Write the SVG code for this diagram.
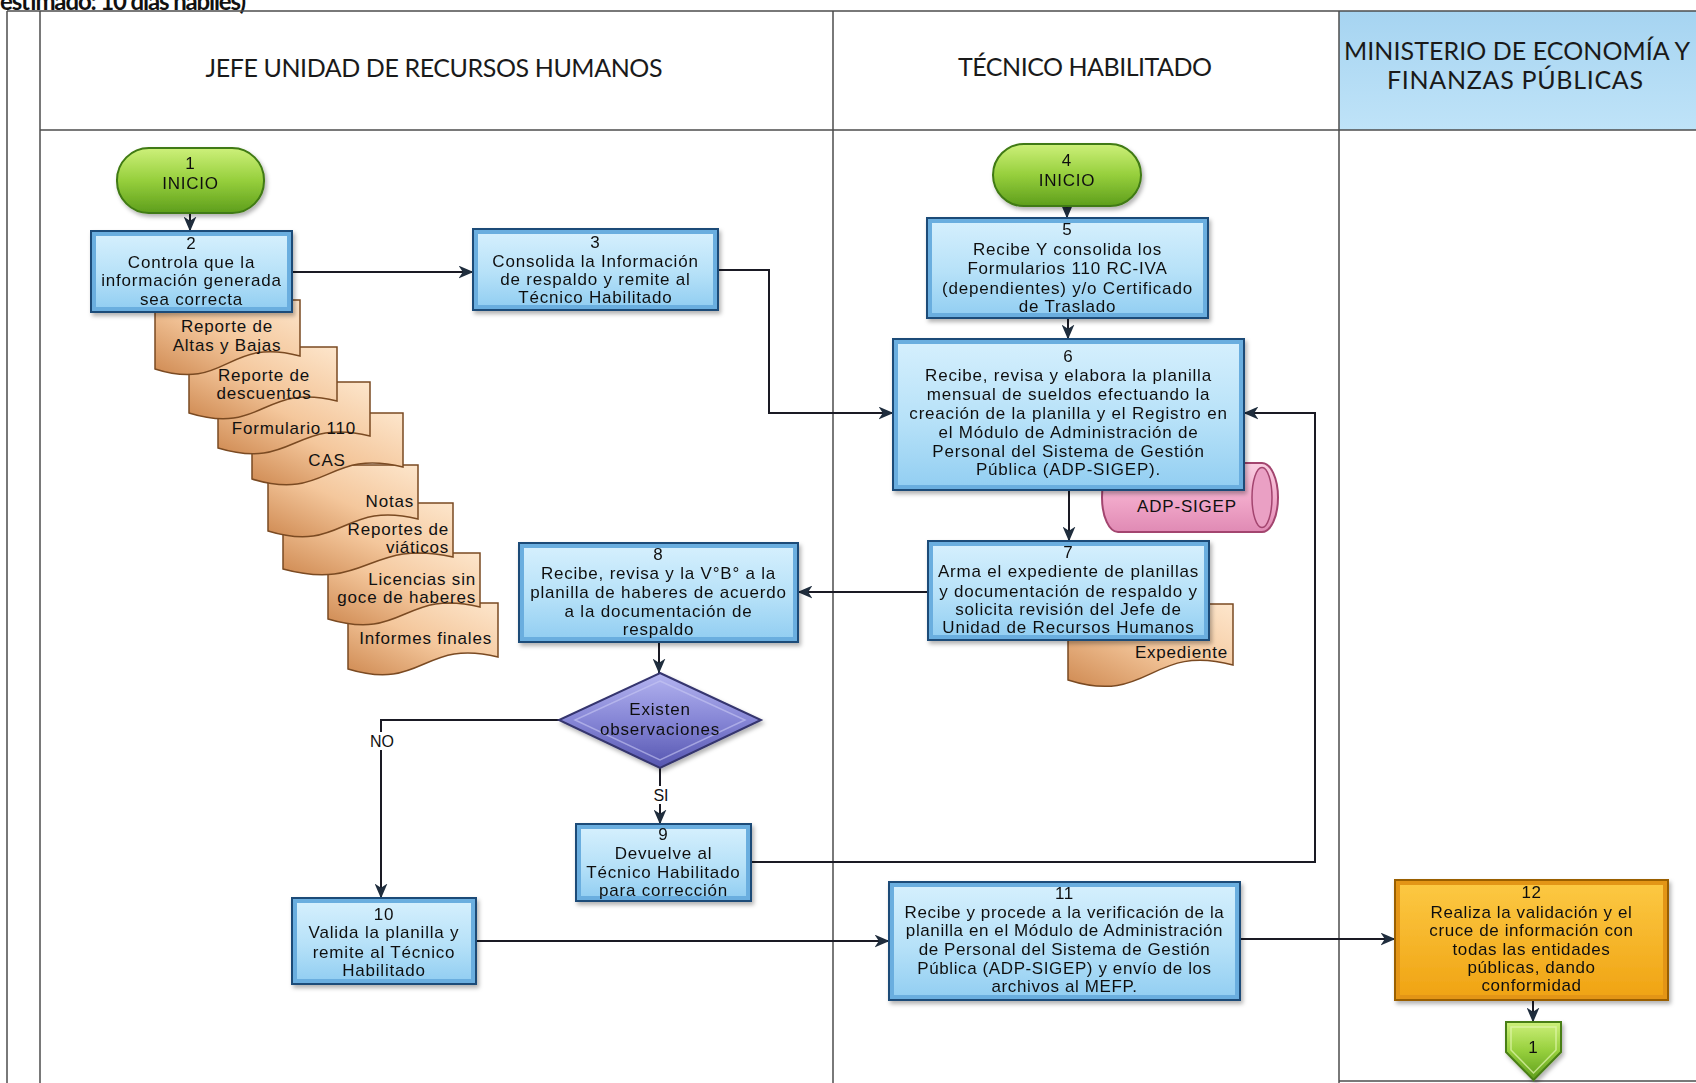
<svg xmlns="http://www.w3.org/2000/svg" width="1696" height="1083" viewBox="0 0 1696 1083">
<defs>
  <linearGradient id="gBlue" x1="0" y1="0" x2="0" y2="1">
    <stop offset="0" stop-color="#d4effd"/>
    <stop offset="0.55" stop-color="#b6e1f8"/>
    <stop offset="1" stop-color="#94cff2"/>
  </linearGradient>
  <linearGradient id="gGreen" x1="0" y1="0" x2="0" y2="1">
    <stop offset="0" stop-color="#cdf07a"/>
    <stop offset="0.5" stop-color="#96cf3c"/>
    <stop offset="1" stop-color="#5e9e1c"/>
  </linearGradient>
  <linearGradient id="gOrange" x1="0" y1="0" x2="0" y2="1">
    <stop offset="0" stop-color="#fcc842"/>
    <stop offset="1" stop-color="#f0a414"/>
  </linearGradient>
  <linearGradient id="gDiamond" x1="0" y1="0" x2="0" y2="1">
    <stop offset="0" stop-color="#b4b4f0"/>
    <stop offset="0.5" stop-color="#8686d6"/>
    <stop offset="1" stop-color="#5656b0"/>
  </linearGradient>
  <linearGradient id="gDoc" x1="1" y1="0" x2="0" y2="1">
    <stop offset="0" stop-color="#fde6cc"/>
    <stop offset="0.5" stop-color="#f4c79c"/>
    <stop offset="1" stop-color="#cf8a52"/>
  </linearGradient>
  <linearGradient id="gPink" x1="0" y1="0" x2="0" y2="1">
    <stop offset="0" stop-color="#f9cfe2"/>
    <stop offset="0.5" stop-color="#f2aacb"/>
    <stop offset="1" stop-color="#e08ab4"/>
  </linearGradient>
  <linearGradient id="gHead" x1="0" y1="0" x2="0" y2="1">
    <stop offset="0" stop-color="#a6d4f1"/>
    <stop offset="1" stop-color="#bfe3f8"/>
  </linearGradient>
  <marker id="arr" viewBox="0 0 14 12" refX="13.5" refY="6" markerWidth="15" markerHeight="13" markerUnits="userSpaceOnUse" orient="auto">
    <path d="M0,0 L14,6 L0,12 L4,6 z" fill="#1f2d3d"/>
  </marker>
  <filter id="sh" x="-10%" y="-10%" width="130%" height="140%">
    <feDropShadow dx="2" dy="3" stdDeviation="2" flood-color="#000" flood-opacity="0.3"/>
  </filter>
</defs>
<style>
  .lane{stroke:#4d4d4d;stroke-width:1.5;fill:none}
  .hdr{font-family:Lato,"Open Sans",sans-serif;font-size:25px;fill:#1a1a1a;text-anchor:middle}
  .ttl{font-family:Lato,"Open Sans",sans-serif;font-size:24px;font-weight:bold;fill:#111}
  .t{font-family:"Liberation Sans",Arial,sans-serif;font-size:17px;letter-spacing:0.8px;fill:#111;text-anchor:middle}
  .te{font-family:"Liberation Sans",Arial,sans-serif;font-size:17px;letter-spacing:0.8px;fill:#111;text-anchor:end}
  .tn{font-family:"Liberation Sans",Arial,sans-serif;font-size:17px;letter-spacing:0.6px;fill:#111;text-anchor:middle}
  .bx{fill:#6aaedf;stroke:#1f4b78;stroke-width:2}
  .bxi{fill:url(#gBlue)}
  .term{fill:url(#gGreen);stroke:#3f7a12;stroke-width:2}
  .doc{fill:url(#gDoc);stroke:#7a4a22;stroke-width:1.5}
  .wire{fill:none;stroke:#1a1a24;stroke-width:2}
  .lbl{font-family:"Liberation Sans",Arial,sans-serif;font-size:16px;fill:#111;text-anchor:middle}
</style>

<!-- page title, partly above the sheet edge -->
<text class="ttl" x="0" y="10" textLength="246">estimado: 10 días hábiles)</text>

<!-- swimlane table -->
<g id="lanes">
  <rect x="1339" y="11" width="357" height="119" fill="url(#gHead)"/>
  <path class="lane" d="M7,11 H1696 M40,130 H1696 M7,11 V1083 M40,11 V1083 M833,11 V1083 M1339,11 V1083 M1339,1081 H1696"/>
  <text class="hdr" x="434" y="77" textLength="457">JEFE UNIDAD DE RECURSOS HUMANOS</text>
  <text class="hdr" x="1085" y="76" textLength="254">TÉCNICO HABILITADO</text>
  <text class="hdr" x="1517" y="60" textLength="346">MINISTERIO DE ECONOMÍA Y</text>
  <text class="hdr" x="1515" y="89" textLength="256">FINANZAS PÚBLICAS</text>
</g>

<!-- supporting documents of step 2, lowest one first -->
<g id="docs">
  <g id="d8"><path class="doc" d="M348,603 H498 V657 C423,638 423,692 348,669 Z"/>
    <text class="te" x="492" y="644">Informes finales</text></g>
  <g id="d7"><path class="doc" d="M328,553 H480 V607 C404,588 404,642 328,619 Z"/>
    <text class="te" x="476" y="585">Licencias sin</text><text class="te" x="476" y="603">goce de haberes</text></g>
  <g id="d6"><path class="doc" d="M283,503 H453 V557 C368,538 368,592 283,569 Z"/>
    <text class="te" x="449" y="535">Reportes de</text><text class="te" x="449" y="553">viáticos</text></g>
  <g id="d5"><path class="doc" d="M268,465 H418 V519 C343,500 343,554 268,531 Z"/>
    <text class="te" x="414" y="507">Notas</text></g>
  <g id="d4"><path class="doc" d="M252,413 H403 V467 C327,448 327,502 252,479 Z"/>
    <text class="t" x="327" y="466">CAS</text></g>
  <g id="d3"><path class="doc" d="M218,382 H370 V436 C294,417 294,471 218,448 Z"/>
    <text class="t" x="294" y="434">Formulario 110</text></g>
  <g id="d2"><path class="doc" d="M189,347 H337 V401 C263,382 263,436 189,413 Z"/>
    <text class="t" x="264" y="381">Reporte de</text><text class="t" x="264" y="399">descuentos</text></g>
  <g id="d1"><path class="doc" d="M155,300 H300 V356 C227,336 227,392 155,369 Z"/>
    <text class="t" x="227" y="332">Reporte de</text><text class="t" x="227" y="351">Altas y Bajas</text></g>
</g>

<!-- ADP-SIGEP data store -->
<g id="adp">
  <path d="M1118,463 H1262 A16,34.5 0 0 1 1262,532 H1118 A16,34.5 0 0 1 1118,463 Z" fill="url(#gPink)" stroke="#a3456f" stroke-width="2"/>
  <ellipse cx="1262" cy="497.5" rx="10" ry="30" fill="#eaa0c4" stroke="#a3456f" stroke-width="1.5"/>
  <text class="t" x="1187" y="512">ADP-SIGEP</text>
</g>

<!-- Expediente document -->
<g id="expediente">
  <path class="doc" d="M1068,604 H1233 V665 C1150,643 1150,706 1068,680 Z"/>
  <text class="te" x="1228" y="658">Expediente</text>
</g>

<!-- connectors -->
<g id="connectors">
  <path class="wire" marker-end="url(#arr)" d="M190,213 V231"/>
  <path class="wire" marker-end="url(#arr)" d="M292,272 H473"/>
  <path class="wire" marker-end="url(#arr)" d="M718,270 H769 V413 H893"/>
  <path class="wire" marker-end="url(#arr)" d="M1067,206 V218"/>
  <path class="wire" marker-end="url(#arr)" d="M1068,318 V339"/>
  <path class="wire" marker-end="url(#arr)" d="M1069,490 V541"/>
  <path class="wire" marker-end="url(#arr)" d="M928,592 H798"/>
  <path class="wire" marker-end="url(#arr)" d="M659,642 V673"/>
  <path class="wire" marker-end="url(#arr)" d="M559,720 H381 V898"/>
  <path class="wire" marker-end="url(#arr)" d="M660,768 V824"/>
  <path class="wire" marker-end="url(#arr)" d="M751,862 H1315 V413 H1244"/>
  <path class="wire" marker-end="url(#arr)" d="M476,941 H889"/>
  <path class="wire" marker-end="url(#arr)" d="M1240,939 H1395"/>
  <path class="wire" marker-end="url(#arr)" d="M1533,1000 V1022"/>
  <rect x="368" y="732" width="27" height="18" fill="#fff"/>
  <text class="lbl" x="382" y="747">NO</text>
  <rect x="650" y="786" width="22" height="18" fill="#fff"/>
  <text class="lbl" x="661" y="801">SI</text>
</g>

<!-- start terminators -->
<g id="n1" filter="url(#sh)">
  <rect class="term" x="117" y="148" width="147" height="65" rx="32"/>
  <text class="t" x="190.5" y="169">1</text><text class="t" x="190.5" y="189">INICIO</text>
</g>
<g id="n4" filter="url(#sh)">
  <rect class="term" x="993" y="144" width="148" height="62" rx="31"/>
  <text class="t" x="1067" y="166">4</text><text class="t" x="1067" y="186">INICIO</text>
</g>

<!-- process steps -->
<g id="n2" filter="url(#sh)">
  <rect class="bx" x="91" y="231" width="201" height="81"/>
  <rect class="bxi" x="96" y="236" width="191" height="71"/>
  <text class="t"><tspan x="191.5" y="249">2</tspan><tspan x="191.5" y="268">Controla que la</tspan><tspan x="191.5" y="286">información generada</tspan><tspan x="191.5" y="305">sea correcta</tspan></text>
</g>
<g id="n3" filter="url(#sh)">
  <rect class="bx" x="473" y="229" width="245" height="81"/>
  <rect class="bxi" x="478" y="234" width="235" height="71"/>
  <text class="t"><tspan x="595.5" y="248">3</tspan><tspan x="595.5" y="267">Consolida la Información</tspan><tspan x="595.5" y="285">de respaldo y remite al</tspan><tspan x="595.5" y="303">Técnico Habilitado</tspan></text>
</g>
<g id="n5" filter="url(#sh)">
  <rect class="bx" x="927" y="218" width="281" height="100"/>
  <rect class="bxi" x="932" y="223" width="271" height="90"/>
  <text class="t"><tspan x="1067.5" y="235">5</tspan><tspan x="1067.5" y="255">Recibe Y consolida los</tspan><tspan x="1067.5" y="274">Formularios 110 RC-IVA</tspan><tspan x="1067.5" y="294">(dependientes) y/o Certificado</tspan><tspan x="1067.5" y="312">de Traslado</tspan></text>
</g>
<g id="n6" filter="url(#sh)">
  <rect class="bx" x="893" y="339" width="351" height="151"/>
  <rect class="bxi" x="898" y="344" width="341" height="141"/>
  <text class="t"><tspan x="1068.5" y="362">6</tspan><tspan x="1068.5" y="381">Recibe, revisa y elabora la planilla</tspan><tspan x="1068.5" y="400">mensual de sueldos efectuando la</tspan><tspan x="1068.5" y="419">creación de la planilla y el Registro en</tspan><tspan x="1068.5" y="438">el Módulo de Administración de</tspan><tspan x="1068.5" y="457">Personal del Sistema de Gestión</tspan><tspan x="1068.5" y="475">Pública (ADP-SIGEP).</tspan></text>
</g>
<g id="n7" filter="url(#sh)">
  <rect class="bx" x="928" y="541" width="281" height="99"/>
  <rect class="bxi" x="933" y="546" width="271" height="89"/>
  <text class="t"><tspan x="1068.5" y="558">7</tspan><tspan x="1068.5" y="577">Arma el expediente de planillas</tspan><tspan x="1068.5" y="597">y documentación de respaldo y</tspan><tspan x="1068.5" y="615">solicita revisión del Jefe de</tspan><tspan x="1068.5" y="633">Unidad de Recursos Humanos</tspan></text>
</g>
<g id="n8" filter="url(#sh)">
  <rect class="bx" x="519" y="543" width="279" height="99"/>
  <rect class="bxi" x="524" y="548" width="269" height="89"/>
  <text class="t"><tspan x="658.5" y="560">8</tspan><tspan x="658.5" y="579">Recibe, revisa y la V°B° a la</tspan><tspan x="658.5" y="598">planilla de haberes de acuerdo</tspan><tspan x="658.5" y="617">a la documentación de</tspan><tspan x="658.5" y="635">respaldo</tspan></text>
</g>

<!-- decision -->
<g id="d_obs" filter="url(#sh)">
  <polygon points="660,673 761,720 660,768 559,720" fill="url(#gDiamond)" stroke="#34346e" stroke-width="2"/>
  <polygon points="660,681 745,720 660,760 575,720" fill="none" stroke="#c8c8f4" stroke-opacity="0.6" stroke-width="1.5"/>
  <text class="t"><tspan x="660" y="715">Existen</tspan><tspan x="660" y="735">observaciones</tspan></text>
</g>

<g id="n9" filter="url(#sh)">
  <rect class="bx" x="576" y="824" width="175" height="77"/>
  <rect class="bxi" x="581" y="829" width="165" height="67"/>
  <text class="t"><tspan x="663.5" y="840">9</tspan><tspan x="663.5" y="859">Devuelve al</tspan><tspan x="663.5" y="878">Técnico Habilitado</tspan><tspan x="663.5" y="896">para corrección</tspan></text>
</g>
<g id="n10" filter="url(#sh)">
  <rect class="bx" x="292" y="898" width="184" height="86"/>
  <rect class="bxi" x="297" y="903" width="174" height="76"/>
  <text class="t"><tspan x="384" y="920">10</tspan><tspan x="384" y="938">Valida la planilla y</tspan><tspan x="384" y="958">remite al Técnico</tspan><tspan x="384" y="976">Habilitado</tspan></text>
</g>
<g id="n11" filter="url(#sh)">
  <rect class="bx" x="889" y="882" width="351" height="118"/>
  <rect class="bxi" x="894" y="887" width="341" height="108"/>
  <text class="tn"><tspan x="1064.5" y="899">11</tspan><tspan x="1064.5" y="918">Recibe y procede a la verificación de la</tspan><tspan x="1064.5" y="936">planilla en el Módulo de Administración</tspan><tspan x="1064.5" y="955">de Personal del Sistema de Gestión</tspan><tspan x="1064.5" y="974">Pública (ADP-SIGEP) y envío de los</tspan><tspan x="1064.5" y="992">archivos al MEFP.</tspan></text>
</g>
<g id="n12" filter="url(#sh)">
  <rect x="1395" y="880" width="273" height="120" fill="#e39514" stroke="#9a5e00" stroke-width="2"/>
  <rect x="1400" y="885" width="263" height="110" fill="url(#gOrange)"/>
  <text class="tn"><tspan x="1531.5" y="898">12</tspan><tspan x="1531.5" y="918">Realiza la validación y el</tspan><tspan x="1531.5" y="936">cruce de información con</tspan><tspan x="1531.5" y="955">todas las entidades</tspan><tspan x="1531.5" y="973">públicas, dando</tspan><tspan x="1531.5" y="991">conformidad</tspan></text>
</g>

<!-- off-page connector -->
<g id="off1" filter="url(#sh)">
  <polygon points="1506,1022 1561,1022 1561,1052 1533.5,1080 1506,1052" fill="url(#gGreen)" stroke="#4a7f14" stroke-width="2"/>
  <polygon points="1511,1027 1556,1027 1556,1050 1533.5,1073 1511,1050" fill="none" stroke="#e4f7b0" stroke-opacity="0.7" stroke-width="1.5"/>
  <text class="t" x="1533.5" y="1053">1</text>
</g>
</svg>
